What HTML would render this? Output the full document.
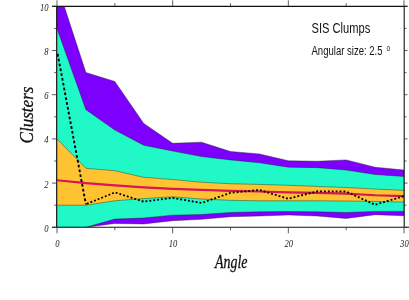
<!DOCTYPE html>
<html><head><meta charset="utf-8"><title>SIS Clumps</title>
<style>html,body{margin:0;padding:0;background:#fff;overflow:hidden}svg{display:block;will-change:transform}</style></head>
<body>
<svg width="409" height="300" viewBox="0 0 409 300">
<defs><clipPath id="c"><rect x="57.0" y="6.3" width="347.0" height="221.0"/></clipPath></defs>
<rect width="409" height="300" fill="#fff"/>
<g clip-path="url(#c)" stroke="#1a1a1a" stroke-width="0.4" stroke-linejoin="round">
<polygon fill="#7d00ff" points="57.00,-15.80 85.92,72.60 114.83,81.44 143.75,123.43 172.67,143.32 201.58,142.22 230.50,151.50 259.42,153.93 288.33,160.78 317.25,161.22 346.17,159.90 375.08,167.19 404.00,170.06 404.00,215.70 375.08,214.70 346.17,218.46 317.25,216.03 288.33,214.92 259.42,216.03 230.50,216.69 201.58,219.34 172.67,220.67 143.75,223.99 114.83,223.43 85.92,227.30 57.00,227.30"/>
<polygon fill="#20f8c8" points="57.00,28.40 85.92,109.73 114.83,130.06 143.75,145.31 172.67,151.06 201.58,156.58 230.50,159.90 259.42,162.77 288.33,167.19 317.25,167.63 346.17,170.06 375.08,174.48 404.00,176.47 404.00,211.39 375.08,211.39 346.17,212.49 317.25,211.83 288.33,211.50 259.42,211.83 230.50,212.49 201.58,214.48 172.67,215.15 143.75,218.02 114.83,219.12 85.92,227.30 57.00,227.30"/>
<polygon fill="#ffc332" points="57.00,138.90 85.92,168.29 114.83,170.72 143.75,177.35 172.67,179.56 201.58,182.22 230.50,183.76 259.42,184.43 288.33,185.31 317.25,186.42 346.17,187.52 375.08,189.07 404.00,190.39 404.00,202.11 375.08,201.44 346.17,201.00 317.25,200.78 288.33,200.78 259.42,200.78 230.50,200.34 201.58,199.01 172.67,196.80 143.75,198.57 114.83,200.78 85.92,205.20 57.00,205.20"/>
<polyline fill="none" stroke="#d8145a" stroke-width="2.2" points="57.00,180.23 85.92,183.10 114.83,185.31 143.75,187.30 172.67,188.85 201.58,189.95 230.50,190.84 259.42,191.50 288.33,192.38 317.25,192.82 346.17,193.71 375.08,195.25 404.00,196.14"/>
<polyline fill="none" stroke="#000" stroke-width="1.9" stroke-dasharray="2.7 2.2" stroke-dashoffset="2.7" points="57.25,51.80 85.92,204.32"/>
<polyline fill="none" stroke="#000" stroke-width="1.85" stroke-dasharray="1.9 2.0" stroke-dashoffset="-1" points="85.92,204.32 114.83,192.38 143.75,201.66 172.67,197.91 201.58,202.99 230.50,192.82 259.42,189.95 288.33,198.79 317.25,191.28 346.17,191.50 375.08,204.76 404.00,196.14"/>
</g>
<g stroke="#111" fill="none">
<line x1="56.6" y1="6.3" x2="56.6" y2="227.3" stroke-width="1.0"/>
<line x1="404.2" y1="6.3" x2="404.2" y2="227.3" stroke-width="1.1"/>
<line x1="52.0" y1="6.3" x2="407.5" y2="6.3" stroke-width="1.3"/>
<line x1="52.0" y1="227.3" x2="409.0" y2="227.3" stroke-width="1.1"/>
</g>
<g stroke="#333" stroke-width="0.8">
<line x1="52.00" y1="227.30" x2="57.0" y2="227.30"/>
<line x1="404.0" y1="227.30" x2="407.50" y2="227.30"/>
<line x1="54.20" y1="205.20" x2="57.0" y2="205.20"/>
<line x1="404.0" y1="205.20" x2="406.50" y2="205.20"/>
<line x1="52.00" y1="183.10" x2="57.0" y2="183.10"/>
<line x1="404.0" y1="183.10" x2="407.50" y2="183.10"/>
<line x1="54.20" y1="161.00" x2="57.0" y2="161.00"/>
<line x1="404.0" y1="161.00" x2="406.50" y2="161.00"/>
<line x1="52.00" y1="138.90" x2="57.0" y2="138.90"/>
<line x1="404.0" y1="138.90" x2="407.50" y2="138.90"/>
<line x1="54.20" y1="116.80" x2="57.0" y2="116.80"/>
<line x1="404.0" y1="116.80" x2="406.50" y2="116.80"/>
<line x1="52.00" y1="94.70" x2="57.0" y2="94.70"/>
<line x1="404.0" y1="94.70" x2="407.50" y2="94.70"/>
<line x1="54.20" y1="72.60" x2="57.0" y2="72.60"/>
<line x1="404.0" y1="72.60" x2="406.50" y2="72.60"/>
<line x1="52.00" y1="50.50" x2="57.0" y2="50.50"/>
<line x1="404.0" y1="50.50" x2="407.50" y2="50.50"/>
<line x1="54.20" y1="28.40" x2="57.0" y2="28.40"/>
<line x1="404.0" y1="28.40" x2="406.50" y2="28.40"/>
<line x1="52.00" y1="6.30" x2="57.0" y2="6.30"/>
<line x1="404.0" y1="6.30" x2="407.50" y2="6.30"/>
<line x1="57.00" y1="227.3" x2="57.00" y2="233.30"/>
<line x1="57.00" y1="6.3" x2="57.00" y2="0.30"/>
<line x1="114.83" y1="227.3" x2="114.83" y2="230.30"/>
<line x1="114.83" y1="6.3" x2="114.83" y2="3.30"/>
<line x1="172.67" y1="227.3" x2="172.67" y2="233.30"/>
<line x1="172.67" y1="6.3" x2="172.67" y2="0.30"/>
<line x1="230.50" y1="227.3" x2="230.50" y2="230.30"/>
<line x1="230.50" y1="6.3" x2="230.50" y2="3.30"/>
<line x1="288.33" y1="227.3" x2="288.33" y2="233.30"/>
<line x1="288.33" y1="6.3" x2="288.33" y2="0.30"/>
<line x1="346.17" y1="227.3" x2="346.17" y2="230.30"/>
<line x1="346.17" y1="6.3" x2="346.17" y2="3.30"/>
<line x1="404.00" y1="227.3" x2="404.00" y2="233.30"/>
<line x1="404.00" y1="6.3" x2="404.00" y2="0.30"/>
</g>
<g font-family="Liberation Serif, serif" font-style="italic" font-size="10.2" fill="#222">
<text x="44.30" y="231.80" textLength="4.30" lengthAdjust="spacingAndGlyphs">0</text>
<text x="44.30" y="187.60" textLength="4.30" lengthAdjust="spacingAndGlyphs">2</text>
<text x="44.30" y="143.40" textLength="4.30" lengthAdjust="spacingAndGlyphs">4</text>
<text x="44.30" y="99.20" textLength="4.30" lengthAdjust="spacingAndGlyphs">6</text>
<text x="44.30" y="55.00" textLength="4.30" lengthAdjust="spacingAndGlyphs">8</text>
<text x="40.00" y="10.80" textLength="8.60" lengthAdjust="spacingAndGlyphs">10</text>
<text x="55.25" y="246.8" textLength="4.30" lengthAdjust="spacingAndGlyphs">0</text>
<text x="168.77" y="246.8" textLength="8.60" lengthAdjust="spacingAndGlyphs">10</text>
<text x="284.43" y="246.8" textLength="8.60" lengthAdjust="spacingAndGlyphs">20</text>
<text x="400.10" y="246.8" textLength="8.60" lengthAdjust="spacingAndGlyphs">30</text>
</g>
<g font-family="Liberation Serif, serif" font-style="italic" fill="#111" stroke="#111" stroke-width="0.3">
<text x="231.2" y="267.7" font-size="19" text-anchor="middle" textLength="32.5" lengthAdjust="spacingAndGlyphs">Angle</text>
<text transform="translate(32.5,115) rotate(-90)" font-size="18.5" text-anchor="middle" textLength="57" lengthAdjust="spacingAndGlyphs">Clusters</text>
</g>
<g font-family="Liberation Sans, sans-serif" fill="#111">
<text x="311.5" y="33.2" font-size="14.5" textLength="58.7" lengthAdjust="spacingAndGlyphs">SIS Clumps</text>
<text x="311.5" y="55.2" font-size="12.7" textLength="71" lengthAdjust="spacingAndGlyphs">Angular size: 2.5</text>
<text x="386.6" y="51.2" font-size="9" textLength="3.6" lengthAdjust="spacingAndGlyphs">o</text>
</g>
</svg>
</body></html>
